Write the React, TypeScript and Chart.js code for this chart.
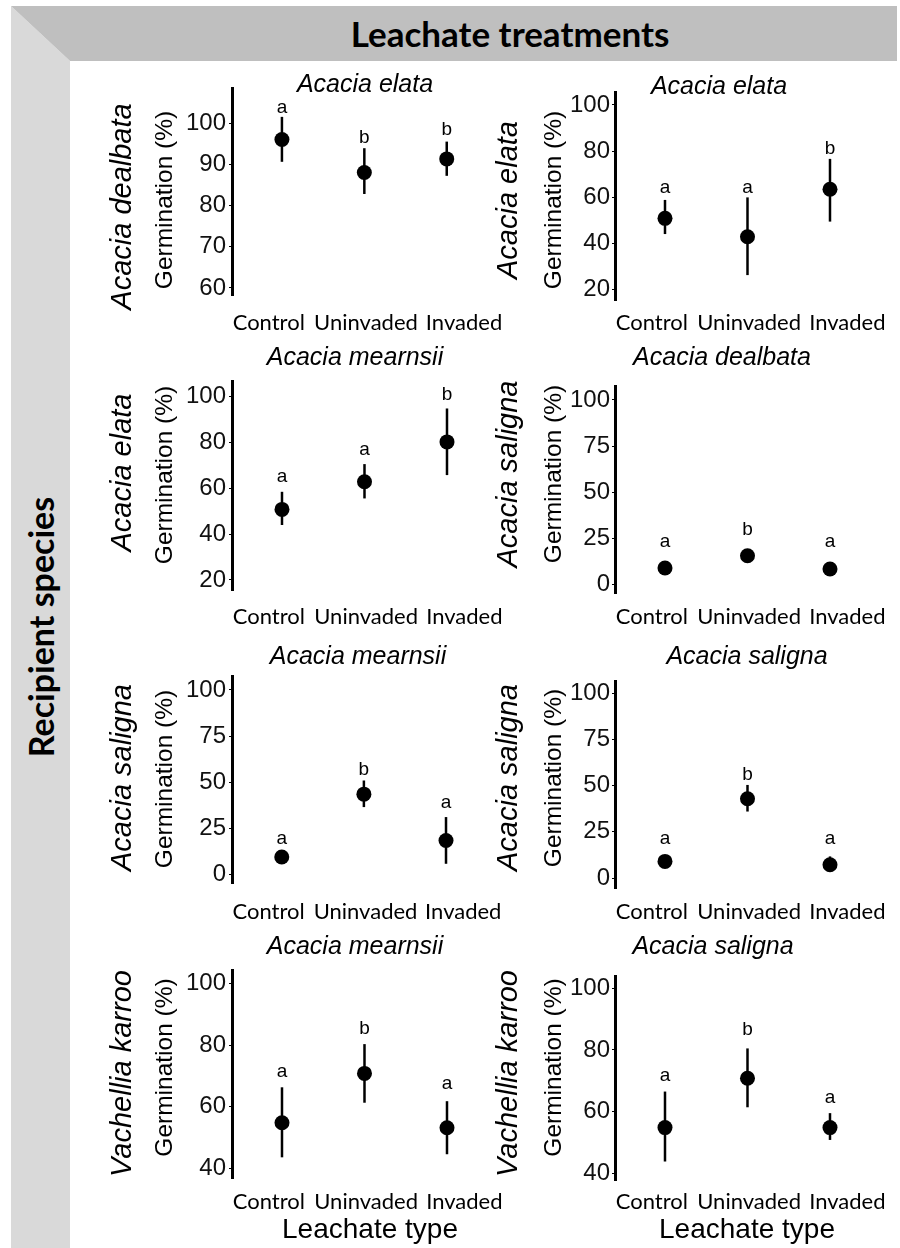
import React, { useEffect, useRef } from "react";
import { Chart, registerables } from "chart.js";

Chart.register(...registerables);

// ---------------- data ----------------
const CATEGORIES = ["Control", "Uninvaded", "Invaded"];
const CATEGORY_X = [1, 2, 3];
const CATEGORY_LABEL_X = [0.84, 2.02, 3.21];
const X_MIN = 0.394;
const X_MAX = 3.5;

const TICKS_60_100 = [60, 70, 80, 90, 100];
const TICKS_20_100 = [20, 40, 60, 80, 100];
const TICKS_0_100 = [0, 25, 50, 75, 100];
const TICKS_40_100 = [40, 60, 80, 100];

// recipient Acacia dealbata, leachate Acacia elata
const P1_MEAN = [96.0, 88.0, 91.3];
const P1_LOW = [90.6, 82.8, 87.2];
const P1_HIGH = [101.5, 93.9, 95.5];
const P1_LETTERS = ["a", "b", "b"];
const P1_LETTER_Y = [103.7, 96.4, 98.4];

// recipient Acacia elata, leachate Acacia elata
const P2_MEAN = [50.8, 42.8, 63.4];
const P2_LOW = [44.0, 26.2, 49.4];
const P2_HIGH = [58.8, 59.9, 76.6];
const P2_LETTERS = ["a", "a", "b"];
const P2_LETTER_Y = [64.2, 64.2, 81.2];

// recipient Acacia elata, leachate Acacia mearnsii
const P3_MEAN = [50.8, 62.9, 80.3];
const P3_LOW = [44.0, 55.6, 65.8];
const P3_HIGH = [58.5, 70.6, 94.9];
const P3_LETTERS = ["a", "a", "b"];
const P3_LETTER_Y = [64.9, 76.7, 100.7];

// recipient Acacia saligna, leachate Acacia dealbata
const P4_MEAN = [9.0, 15.7, 8.5];
const P4_LOW = [7.5, 14.0, 7.2];
const P4_HIGH = [10.5, 17.4, 9.8];
const P4_LETTERS = ["a", "b", "a"];
const P4_LETTER_Y = [23.4, 29.9, 23.4];

// recipient Acacia saligna, leachate Acacia mearnsii
const P5_MEAN = [9.6, 43.6, 18.5];
const P5_LOW = [8.0, 36.6, 5.9];
const P5_HIGH = [11.2, 51.0, 31.2];
const P5_LETTERS = ["a", "b", "a"];
const P5_LETTER_Y = [19.6, 56.8, 38.8];

// recipient Acacia saligna, leachate Acacia saligna
const P6_MEAN = [9.0, 42.9, 7.2];
const P6_LOW = [7.6, 36.0, 5.0];
const P6_HIGH = [10.4, 50.4, 11.7];
const P6_LETTERS = ["a", "b", "a"];
const P6_LETTER_Y = [21.4, 55.8, 21.4];

// recipient Vachellia karroo, leachate Acacia mearnsii
const P7_MEAN = [54.8, 70.8, 53.2];
const P7_LOW = [43.6, 61.3, 44.6];
const P7_HIGH = [66.3, 80.3, 61.8];
const P7_LETTERS = ["a", "b", "a"];
const P7_LETTER_Y = [71.2, 85.4, 67.6];

// recipient Vachellia karroo, leachate Acacia saligna
const P8_MEAN = [54.8, 70.8, 54.8];
const P8_LOW = [43.8, 61.4, 50.8];
const P8_HIGH = [66.5, 80.5, 59.5];
const P8_LETTERS = ["a", "b", "a"];
const P8_LETTER_Y = [71.7, 86.7, 64.5];

// ---------------- layout / style ----------------
const ARIAL = "Arial, 'Liberation Sans', sans-serif";
const LABEL_FONT = "Lato, 'Open Sans', sans-serif";
const PAGE_H = 1248;
const UNIT_PX = 82.5;
const LABEL_SIZE = 22;

const COLS: any = {
  left: { canvasLeft: 75, width: 445, axisX: 232, speciesW: 70, speciesX: 122.5, germX: 165, xTitleX: 370, tickPad: 3 },
  right: { canvasLeft: 470, width: 430, axisX: 615, speciesW: 62, speciesX: 508.5, germX: 554, xTitleX: 747, tickPad: 2 },
};

type PanelDef = {
  col: string;
  leachate: string;
  recipient: string;
  mean: number[];
  low: number[];
  high: number[];
  letters: string[];
  letterY: number[];
  ticks: number[];
  yMin: number;
  yMax: number;
  canvasTop: number;
  axisTop: number;
  axisBottom: number;
  titleX: number;
  titleY: number;
  labelY: number;
  speciesY: number;
  germY: number;
  lastRow: boolean;
};

const PANELS: PanelDef[] = [
  { col: "left", leachate: "Acacia elata", recipient: "Acacia dealbata", mean: P1_MEAN, low: P1_LOW, high: P1_HIGH, letters: P1_LETTERS, letterY: P1_LETTER_Y, ticks: TICKS_60_100, yMin: 58.3, yMax: 108.5, canvasTop: 62, axisTop: 88, axisBottom: 295, titleX: 365, titleY: 85, labelY: 323, speciesY: 206.5, germY: 200, lastRow: false },
  { col: "right", leachate: "Acacia elata", recipient: "Acacia elata", mean: P2_MEAN, low: P2_LOW, high: P2_HIGH, letters: P2_LETTERS, letterY: P2_LETTER_Y, ticks: TICKS_20_100, yMin: 15.4, yMax: 105.6, canvasTop: 62, axisTop: 92, axisBottom: 300, titleX: 719, titleY: 87, labelY: 323, speciesY: 200, germY: 200, lastRow: false },
  { col: "left", leachate: "Acacia mearnsii", recipient: "Acacia elata", mean: P3_MEAN, low: P3_LOW, high: P3_HIGH, letters: P3_LETTERS, letterY: P3_LETTER_Y, ticks: TICKS_20_100, yMin: 15.6, yMax: 106.6, canvasTop: 335, axisTop: 381.7, axisBottom: 590, titleX: 355, titleY: 358, labelY: 617, speciesY: 472.5, germY: 475, lastRow: false },
  { col: "right", leachate: "Acacia dealbata", recipient: "Acacia saligna", mean: P4_MEAN, low: P4_LOW, high: P4_HIGH, letters: P4_LETTERS, letterY: P4_LETTER_Y, ticks: TICKS_0_100, yMin: -4.5, yMax: 107.2, canvasTop: 335, axisTop: 386.7, axisBottom: 593.3, titleX: 722, titleY: 358, labelY: 617, speciesY: 474, germY: 474, lastRow: false },
  { col: "left", leachate: "Acacia mearnsii", recipient: "Acacia saligna", mean: P5_MEAN, low: P5_LOW, high: P5_HIGH, letters: P5_LETTERS, letterY: P5_LETTER_Y, ticks: TICKS_0_100, yMin: -4.5, yMax: 107.2, canvasTop: 630, axisTop: 676.7, axisBottom: 883.3, titleX: 358, titleY: 656.7, labelY: 912, speciesY: 777.5, germY: 779, lastRow: false },
  { col: "right", leachate: "Acacia saligna", recipient: "Acacia saligna", mean: P6_MEAN, low: P6_LOW, high: P6_HIGH, letters: P6_LETTERS, letterY: P6_LETTER_Y, ticks: TICKS_0_100, yMin: -5.4, yMax: 106.3, canvasTop: 630, axisTop: 681.7, axisBottom: 888.3, titleX: 747, titleY: 656.7, labelY: 912, speciesY: 777.5, germY: 778, lastRow: false },
  { col: "left", leachate: "Acacia mearnsii", recipient: "Vachellia karroo", mean: P7_MEAN, low: P7_LOW, high: P7_HIGH, letters: P7_LETTERS, letterY: P7_LETTER_Y, ticks: TICKS_40_100, yMin: 36.8, yMax: 104.1, canvasTop: 925, axisTop: 970.7, axisBottom: 1178.3, titleX: 355, titleY: 946.7, labelY: 1202, speciesY: 1073.5, germY: 1067.5, lastRow: true },
  { col: "right", leachate: "Acacia saligna", recipient: "Vachellia karroo", mean: P8_MEAN, low: P8_LOW, high: P8_HIGH, letters: P8_LETTERS, letterY: P8_LETTER_Y, ticks: TICKS_40_100, yMin: 37.8, yMax: 104.0, canvasTop: 925, axisTop: 976, axisBottom: 1180, titleX: 713, titleY: 946.7, labelY: 1202, speciesY: 1073.5, germY: 1067.5, lastRow: true },
];

function drawRotated(ctx: any, text: string, x: number, y: number, font: string) {
  ctx.save();
  ctx.translate(x, y);
  ctx.rotate(-Math.PI / 2);
  ctx.font = font;
  ctx.fillStyle = "#000";
  ctx.textAlign = "center";
  ctx.textBaseline = "middle";
  ctx.fillText(text, 0, 0);
  ctx.restore();
}

function Panel({ p }: { p: PanelDef }) {
  const ref = useRef<HTMLCanvasElement>(null);
  const col = COLS[p.col];
  const xlH = p.lastRow ? PAGE_H - p.axisBottom : 45;
  const height = Math.round(p.axisBottom + xlH - p.canvasTop);
  const chartRightRel = col.axisX + (X_MAX - X_MIN) * UNIT_PX - col.canvasLeft;
  const axisLeftRel = col.axisX - col.canvasLeft;

  useEffect(() => {
    if (!ref.current) return;
    const errorBars = {
      id: "errorBars",
      beforeDatasetsDraw(chart: any) {
        const { ctx, scales } = chart;
        const x = scales.x;
        const y = scales.y;
        ctx.save();
        ctx.strokeStyle = "#000";
        ctx.lineWidth = 2.5;
        p.low.forEach((lo, i) => {
          const px = x.getPixelForValue(CATEGORY_X[i]);
          ctx.beginPath();
          ctx.moveTo(px, y.getPixelForValue(lo));
          ctx.lineTo(px, y.getPixelForValue(p.high[i]));
          ctx.stroke();
        });
        ctx.restore();
      },
    };
    const letters = {
      id: "letters",
      afterDatasetsDraw(chart: any) {
        const { ctx, scales } = chart;
        ctx.save();
        ctx.fillStyle = "#000";
        ctx.font = `19px ${ARIAL}`;
        ctx.textAlign = "center";
        ctx.textBaseline = "middle";
        p.letters.forEach((t, i) => {
          ctx.fillText(t, scales.x.getPixelForValue(CATEGORY_X[i]), scales.y.getPixelForValue(p.letterY[i]));
        });
        ctx.restore();
      },
    };
    const panelText = {
      id: "panelText",
      afterDraw(chart: any) {
        const { ctx } = chart;
        ctx.save();
        ctx.fillStyle = "#000";
        ctx.font = `italic 25px ${ARIAL}`;
        ctx.textAlign = "center";
        ctx.textBaseline = "middle";
        ctx.fillText(p.leachate, p.titleX - col.canvasLeft, p.titleY - p.canvasTop);
        if (p.lastRow) {
          ctx.font = `28px ${ARIAL}`;
          ctx.fillText("Leachate type", col.xTitleX - col.canvasLeft, 1230 - p.canvasTop);
        }
        ctx.restore();
        drawRotated(ctx, p.recipient, col.speciesX - col.canvasLeft, p.speciesY - p.canvasTop, `italic 29px ${ARIAL}`);
        drawRotated(ctx, "Germination (%)", col.germX - col.canvasLeft, p.germY - p.canvasTop, `24.5px ${ARIAL}`);
      },
    };

    const chart = new Chart(ref.current, {
      type: "scatter",
      data: {
        datasets: [
          {
            data: CATEGORY_X.map((x, i) => ({ x, y: p.mean[i] })),
            backgroundColor: "#000",
            borderColor: "#000",
            borderWidth: 0,
            pointRadius: 7.5,
            pointHoverRadius: 7.5,
            clip: false as any,
          },
        ],
      },
      options: {
        responsive: false,
        animation: false,
        events: [],
        layout: {
          padding: {
            left: 0,
            top: p.axisTop - p.canvasTop,
            right: col.width - chartRightRel,
            bottom: 0,
          },
        },
        plugins: {
          legend: { display: false },
          tooltip: { enabled: false },
          title: { display: false },
        },
        scales: {
          x: { type: "linear", min: X_MIN, max: X_MAX, display: false },
          xl: {
            type: "linear",
            position: "bottom",
            min: X_MIN,
            max: X_MAX,
            afterBuildTicks: (s: any) => {
              s.ticks = CATEGORY_LABEL_X.map((v) => ({ value: v }));
            },
            afterFit: (s: any) => {
              s.height = xlH;
            },
            grid: { display: false, drawTicks: false },
            border: { display: false },
            ticks: {
              autoSkip: false,
              maxRotation: 0,
              minRotation: 0,
              padding: p.labelY - p.axisBottom - (LABEL_SIZE * 1.2) / 2,
              color: "#000",
              font: { family: LABEL_FONT, size: LABEL_SIZE, lineHeight: 1.2 },
              callback: (_v: any, i: number) => CATEGORIES[i],
            },
          },
          y: {
            type: "linear",
            position: "left",
            weight: 0,
            min: p.yMin,
            max: p.yMax,
            afterBuildTicks: (s: any) => {
              s.ticks = p.ticks.map((v) => ({ value: v }));
            },
            afterFit: (s: any) => {
              s.width = axisLeftRel - col.speciesW;
            },
            grid: { display: true, drawOnChartArea: false, drawTicks: true, tickLength: 3, color: "#000", lineWidth: 1 },
            border: { display: true, color: "#000", width: 3 },
            ticks: {
              padding: col.tickPad,
              color: "#111",
              font: { family: ARIAL, size: 24 },
            },
          },
          ys: {
            type: "linear",
            position: "left",
            weight: 1,
            min: p.yMin,
            max: p.yMax,
            afterFit: (s: any) => {
              s.width = col.speciesW;
            },
            grid: { display: false, drawTicks: false },
            border: { display: false },
            ticks: { display: false },
          },
        },
      } as any,
      plugins: [errorBars, letters, panelText],
    });
    return () => chart.destroy();
  }, []);

  return (
    <canvas
      ref={ref}
      width={col.width}
      height={height}
      style={{ position: "absolute", left: col.canvasLeft, top: p.canvasTop, width: col.width, height }}
    />
  );
}

export default function App() {
  return (
    <div
      style={{
        position: "absolute",
        left: 0,
        top: 0,
        width: 900,
        height: PAGE_H,
        overflow: "hidden",
        background: "#fff",
      }}
    >
      <div
        style={{
          position: "absolute",
          left: 11,
          top: 6,
          width: 59,
          height: PAGE_H - 6,
          background: "#d9d9d9",
          clipPath: "polygon(0 0, 59px 55px, 59px 100%, 0 100%)",
        }}
      />
      <div
        style={{
          position: "absolute",
          left: 11,
          top: 6,
          width: 886,
          height: 55,
          background: "#bfbfbf",
          clipPath: "polygon(0 0, 100% 0, 100% 100%, 59px 100%)",
        }}
      />
      <div
        style={{
          position: "absolute",
          left: 120,
          top: 6,
          width: 780,
          height: 55,
          lineHeight: "55px",
          textAlign: "center",
          fontFamily: LABEL_FONT,
          fontWeight: 700,
          fontSize: 35,
          color: "#000",
          whiteSpace: "nowrap",
        }}
      >
        Leachate treatments
      </div>
      <div
        style={{
          position: "absolute",
          left: 41 - 200,
          top: 627 - 25,
          width: 400,
          height: 50,
          lineHeight: "50px",
          textAlign: "center",
          fontFamily: LABEL_FONT,
          fontWeight: 700,
          fontSize: 34,
          color: "#000",
          whiteSpace: "nowrap",
          transform: "rotate(-90deg)",
        }}
      >
        Recipient species
      </div>
      {PANELS.map((p, i) => (
        <Panel key={i} p={p} />
      ))}
    </div>
  );
}
